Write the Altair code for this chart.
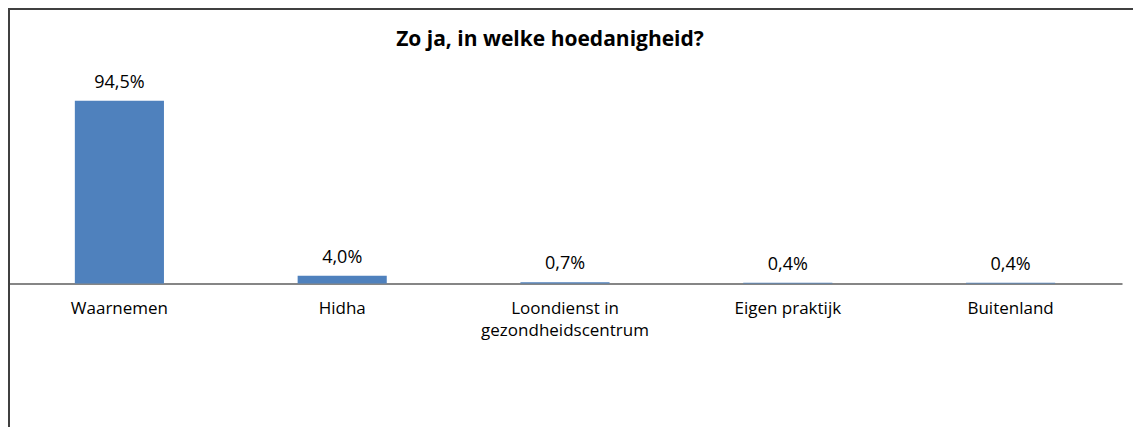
import altair as alt
import pandas as pd

categories = ["Waarnemen", "Hidha", "Loondienst in gezondheidscentrum", "Eigen praktijk", "Buitenland"]
values = [94.5, 4.0, 0.7, 0.4, 0.4]
title_text = "Zo ja, in welke hoedanigheid?"

df = pd.DataFrame({"cat": categories, "pct": values})

W = 1114
H = 193.5
PT = 82
PB = 419 - PT - H
PR = 11
FONT = "Open Sans"
BAR = "#4F81BD"

x_enc = alt.X(
    "cat:N",
    sort=categories,
    scale=alt.Scale(paddingInner=0.6, paddingOuter=0.3),
    axis=alt.Axis(
        title=None, labelAngle=0, ticks=False, domain=True,
        domainColor="#868686", domainWidth=2,
        labelFont=FONT, labelFontSize=17, labelColor="#000000",
        labelPadding=17, labelLineHeight=22, labelLimit=400,
        labelExpr="datum.label == 'Loondienst in gezondheidscentrum' ? ['Loondienst in', 'gezondheidscentrum'] : datum.label",
    ),
)
y_enc = alt.Y("pct:Q", scale=alt.Scale(domain=[0, 100]), axis=None)

base = alt.Chart(df)

bars = base.mark_bar(color=BAR).encode(x=x_enc, y=y_enc)

labels = base.transform_calculate(
    lbl="replace(format(datum.pct, '.1f'), '.', ',') + '%'"
).mark_text(
    baseline="alphabetic", dy=-13, font=FONT, fontSize=18, color="#000000"
).encode(x=x_enc, y=y_enc, text="lbl:N")

one = alt.Data(values=[{}])

title = alt.Chart(one).mark_text(
    font=FONT, fontSize=21, fontWeight="bold", color="#000000",
    baseline="alphabetic", align="center"
).encode(x=alt.value(542), y=alt.value(-44), text=alt.value(title_text))

border_left = alt.Chart(one).mark_rule(color="#404040", strokeWidth=2).encode(
    x=alt.value(1), y=alt.value(-PT), y2=alt.value(H + PB)
)
border_top = alt.Chart(one).mark_rule(color="#404040", strokeWidth=2).encode(
    x=alt.value(0), x2=alt.value(W + PR), y=alt.value(-PT + 1)
)

chart = alt.layer(bars, labels, title, border_left, border_top).properties(
    width=W, height=H,
    padding={"left": 0, "top": PT, "right": PR, "bottom": PB},
    autosize=alt.AutoSizeParams(type="none"),
).configure_view(stroke=None)

chart.save("out.html", embed_options={"renderer": "svg", "actions": False})
